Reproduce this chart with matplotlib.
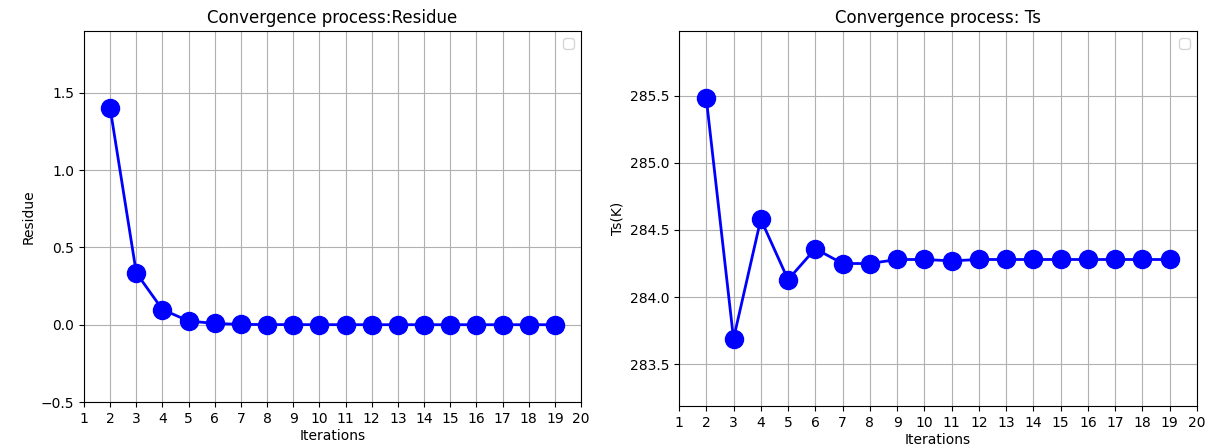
import matplotlib
matplotlib.use("Agg")
import matplotlib.pyplot as plt
import numpy as np

iterations = list(range(2, 20))
residue = [1.40, 0.335, 0.098, 0.024, 0.008, 0.002, 0.001, 0.0005, 0.0003,
           0.0002, 0.0001, 0.0001, 0.0, 0.0, 0.0, 0.0, 0.0, 0.0]
ts = [285.48, 283.69, 284.58, 284.13, 284.36, 284.25, 284.25, 284.28, 284.28,
      284.27, 284.28, 284.28, 284.28, 284.28, 284.28, 284.28, 284.28, 284.28]
xticks = list(range(1, 21))

W, H = 1219, 447
fig = plt.figure(figsize=(W / 100, H / 100), dpi=100)


def px_axes(x0, y0, x1, y1):
    return fig.add_axes([x0 / W, 1 - y1 / H, (x1 - x0) / W, (y1 - y0) / H])


ax1 = px_axes(84, 31, 581, 402)
ax2 = px_axes(679, 31, 1197, 406)

panels = [
    (ax1, residue, "Convergence process:Residue", "Residue"),
    (ax2, ts, "Convergence process: Ts", "Ts(K)"),
]

for ax, vals, title, ylabel in panels:
    ax.plot(iterations, vals, color="blue", marker="o", markersize=13, linewidth=2)
    ax.set_title(title)
    ax.set_xlabel("Iterations", labelpad=2)
    ax.set_ylabel(ylabel)
    ax.set_xticks(xticks)
    ax.set_xlim(1, 20)
    ax.set_ylim(min(vals) - 0.5, max(vals) + 0.5)
    ax.grid(True)
    ax.legend(handles=[], loc="upper right")

fig.savefig("out.png", dpi=100)
